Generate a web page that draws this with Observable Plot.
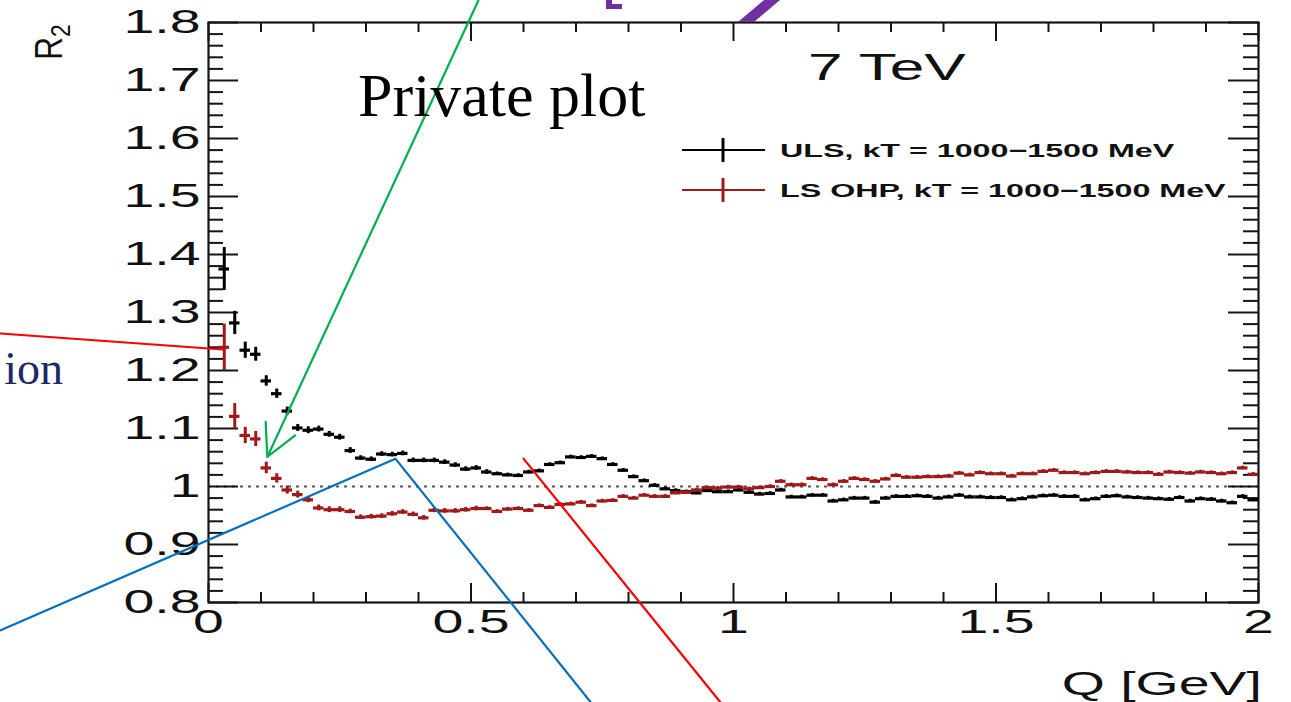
<!DOCTYPE html>
<html><head><meta charset="utf-8">
<script src="https://cdn.jsdelivr.net/npm/d3@7"></script>
<script src="https://cdn.jsdelivr.net/npm/@observablehq/plot@0.6"></script>
<style>
html,body{margin:0;padding:0;background:#fff;overflow:hidden}
#chart{position:relative;width:1291px;height:702px}
</style></head><body><div id="chart"></div>
<script>
// ---------- data ----------
const binCenters = [
0.03,0.05,0.07,0.09,0.11,0.13,0.15,0.17,0.19,0.21,
0.23,0.25,0.27,0.29,0.31,0.33,0.35,0.37,0.39,0.41,
0.43,0.45,0.47,0.49,0.51,0.53,0.55,0.57,0.59,0.61,
0.63,0.65,0.67,0.69,0.71,0.73,0.75,0.77,0.79,0.81,
0.83,0.85,0.87,0.89,0.91,0.93,0.95,0.97,0.99,1.01,
1.03,1.05,1.07,1.09,1.11,1.13,1.15,1.17,1.19,1.21,
1.23,1.25,1.27,1.29,1.31,1.33,1.35,1.37,1.39,1.41,
1.43,1.45,1.47,1.49,1.51,1.53,1.55,1.57,1.59,1.61,
1.63,1.65,1.67,1.69,1.71,1.73,1.75,1.77,1.79,1.81,
1.83,1.85,1.87,1.89,1.91,1.93,1.95,1.97,1.99];
const binHalfWidth = 0.01;

const ulsR2 = [
1.375,1.282,1.235,1.228,1.182,1.160,1.130,1.101,1.097,1.099,
1.090,1.085,1.062,1.049,1.047,1.056,1.055,1.057,1.045,1.045,
1.045,1.042,1.037,1.030,1.032,1.025,1.022,1.020,1.019,1.025,
1.027,1.038,1.041,1.051,1.050,1.052,1.048,1.038,1.028,1.017,
1.010,1.002,0.996,0.993,0.991,0.989,0.993,0.991,0.991,0.994,
0.990,0.987,0.988,0.994,0.982,0.982,0.985,0.985,0.975,0.977,
0.980,0.980,0.973,0.980,0.983,0.983,0.984,0.983,0.980,0.982,
0.985,0.982,0.982,0.981,0.981,0.977,0.979,0.982,0.984,0.985,
0.983,0.983,0.977,0.979,0.983,0.984,0.982,0.981,0.980,0.979,
0.978,0.981,0.975,0.979,0.978,0.975,0.972,0.983,0.977];
const ulsErr = [
0.037,0.020,0.014,0.012,0.009,0.008,0.007,0.006,0.006,0.005,
0.005,0.005,0.005,0.004,0.004,0.004,0.004,0.004,0.004,0.004,
0.004,0.004,0.004,0.004,0.004,0.004,0.003,0.003,0.003,0.003,
0.003,0.003,0.003,0.003,0.003,0.003,0.003,0.003,0.003,0.003,
0.003,0.003,0.003,0.003,0.003,0.003,0.003,0.003,0.003,0.003,
0.003,0.003,0.003,0.003,0.003,0.003,0.003,0.003,0.003,0.003,
0.003,0.003,0.003,0.003,0.003,0.003,0.003,0.003,0.003,0.003,
0.003,0.003,0.003,0.003,0.003,0.003,0.003,0.003,0.003,0.003,
0.003,0.003,0.003,0.003,0.003,0.003,0.003,0.003,0.003,0.003,
0.003,0.003,0.003,0.003,0.003,0.003,0.003,0.003,0.003];

const lsR2 = [
1.240,1.121,1.088,1.082,1.032,1.014,0.994,0.986,0.977,0.963,
0.960,0.960,0.957,0.947,0.948,0.949,0.953,0.956,0.952,0.946,
0.959,0.958,0.958,0.960,0.962,0.962,0.957,0.961,0.962,0.959,
0.967,0.964,0.969,0.970,0.973,0.967,0.975,0.976,0.983,0.980,
0.985,0.983,0.983,0.989,0.990,0.994,0.998,0.997,0.999,0.999,
0.996,0.998,1.000,1.009,1.003,1.003,1.014,1.012,1.003,1.009,
1.014,1.012,1.009,1.013,1.019,1.016,1.016,1.017,1.017,1.018,
1.023,1.020,1.024,1.022,1.022,1.018,1.022,1.022,1.026,1.028,
1.024,1.024,1.022,1.024,1.026,1.026,1.025,1.024,1.024,1.021,
1.025,1.024,1.023,1.025,1.024,1.022,1.024,1.032,1.021];
const lsErr = [
0.040,0.022,0.014,0.013,0.010,0.008,0.007,0.006,0.005,0.005,
0.005,0.005,0.004,0.004,0.004,0.004,0.004,0.004,0.004,0.004,
0.004,0.004,0.004,0.004,0.004,0.003,0.003,0.003,0.003,0.003,
0.003,0.003,0.003,0.003,0.003,0.003,0.003,0.003,0.003,0.003,
0.003,0.003,0.003,0.003,0.003,0.003,0.003,0.003,0.003,0.003,
0.003,0.003,0.003,0.003,0.003,0.003,0.003,0.003,0.003,0.003,
0.003,0.003,0.003,0.003,0.003,0.003,0.003,0.003,0.003,0.003,
0.003,0.003,0.003,0.003,0.003,0.003,0.003,0.003,0.003,0.003,
0.003,0.003,0.003,0.003,0.003,0.003,0.003,0.003,0.003,0.003,
0.003,0.003,0.003,0.003,0.003,0.003,0.003,0.003,0.003];

const seriesNames = ["ULS, kT = 1000\u22121500 MeV", "LS OHP, kT = 1000\u22121500 MeV"];
const seriesColors = ["#000000", "#a01818"];

const xMajorTicks = [0, 0.5, 1, 1.5, 2];
const xTickLabels = ["0", "0.5", "1", "1.5", "2"];
const yMajorTicks = [0.8, 0.9, 1, 1.1, 1.2, 1.3, 1.4, 1.5, 1.6, 1.7, 1.8];
const yTickLabels = ["0.8", "0.9", "1", "1.1", "1.2", "1.3", "1.4", "1.5", "1.6", "1.7", "1.8"];
const xMinorTicks = d3.range(1, 20).map(i => i / 10).filter(v => Math.abs(v * 2 - Math.round(v * 2)) > 1e-6);
const yMinorTicks = d3.range(41, 90).map(i => i / 50).filter(v => Math.abs(v * 10 - Math.round(v * 10)) > 1e-6);

const xLabel = "Q [GeV]";
const energyLabel = "7 TeV";

// annotation overlays (in data coordinates, extending beyond the frame)
const redLeaderA = [{q: -0.396, r: 1.264}, {q: 0.027, r: 1.236}];
const redLeaderB = [{q: 0.600, r: 1.048}, {q: 0.975, r: 0.628}];
const blueLeader = [{q: -0.396, r: 0.752}, {q: 0.356, r: 1.048}, {q: 0.728, r: 0.628}];
const greenArrow = [{q1: 0.514, r1: 1.838, q2: 0.112, r2: 1.051}];

// ---------- build ----------
const W = 1291, H = 702, mL = 208, mR = 33, mT = 22, mB = 100;
const pw = W - mL - mR, ph = H - mT - mB;
const uls = binCenters.map((q, i) => ({q, r: ulsR2[i], e: ulsErr[i]}));
const ls = binCenters.map((q, i) => ({q, r: lsR2[i], e: lsErr[i]}));
const axisCol = "#151515";
const FONT = "'Liberation Sans', Arial, Helvetica, sans-serif";

function errMarks(data, color) {
  return [
    Plot.ruleY(data, {y: "r", x1: d => d.q - binHalfWidth, x2: d => d.q + binHalfWidth, stroke: color, strokeWidth: 3.2}),
    Plot.ruleX(data, {x: "q", y1: d => d.r - d.e, y2: d => d.r + d.e, stroke: color, strokeWidth: 3})
  ];
}

const svg = Plot.plot({
  width: W, height: H,
  marginLeft: mL, marginRight: mR, marginTop: mT, marginBottom: mB,
  x: {domain: [0, 2], axis: null},
  y: {domain: [0.8, 1.8], axis: null},
  style: {background: "white", fontFamily: FONT, overflow: "visible"},
  marks: [
    Plot.ruleY([1], {stroke: "#555", strokeWidth: 1.8, strokeDasharray: "3,5"}),
    Plot.tickX(xMajorTicks, {x: d => d, insetTop: ph - 19, stroke: axisCol, strokeWidth: 2}),
    Plot.tickX(xMinorTicks, {x: d => d, insetTop: ph - 10, stroke: axisCol, strokeWidth: 2}),
    Plot.tickX(xMajorTicks, {x: d => d, insetBottom: ph - 19, stroke: axisCol, strokeWidth: 2}),
    Plot.tickX(xMinorTicks, {x: d => d, insetBottom: ph - 10, stroke: axisCol, strokeWidth: 2}),
    Plot.tickY(yMajorTicks, {y: d => d, insetRight: pw - 30, stroke: axisCol, strokeWidth: 2}),
    Plot.tickY(yMinorTicks, {y: d => d, insetRight: pw - 15, stroke: axisCol, strokeWidth: 2}),
    Plot.tickY(yMajorTicks, {y: d => d, insetLeft: pw - 30, stroke: axisCol, strokeWidth: 2}),
    Plot.tickY(yMinorTicks, {y: d => d, insetLeft: pw - 15, stroke: axisCol, strokeWidth: 2}),
    Plot.frame({stroke: axisCol, strokeWidth: 2.2}),
    Plot.axisX(xMajorTicks, {tickSize: 0, tickPadding: 7, fontSize: 33, fill: "#111",
      tickFormat: d => xTickLabels[xMajorTicks.indexOf(d)], label: null}),
    Plot.axisY(yMajorTicks, {tickSize: 0, tickPadding: 8, fontSize: 33, fill: "#111",
      tickFormat: d => yTickLabels[yMajorTicks.indexOf(d)], label: null}),
    ...errMarks(uls, seriesColors[0]),
    ...errMarks(ls, seriesColors[1]),
    Plot.line(redLeaderA, {x: "q", y: "r", stroke: "#ff0000", strokeWidth: 2}),
    Plot.line(redLeaderB, {x: "q", y: "r", stroke: "#ff0000", strokeWidth: 2.2}),
    Plot.line(blueLeader, {x: "q", y: "r", stroke: "#0070c0", strokeWidth: 2.2}),
    Plot.arrow(greenArrow, {x1: "q1", y1: "r1", x2: "q2", y2: "r2", stroke: "#00b050", strokeWidth: 2.2, headLength: 24, headAngle: 55})
  ]
});
document.getElementById("chart").appendChild(svg);

const S = d3.select(svg);
const STRETCH = 1.68;
function stretch(el, s) {
  const w = el.getComputedTextLength();
  el.setAttribute("textLength", (w * s).toFixed(1));
  el.setAttribute("lengthAdjust", "spacingAndGlyphs");
}
S.selectAll('g[aria-label="x-axis tick label"] text, g[aria-label="y-axis tick label"] text').each(function () { stretch(this, STRETCH); });

// axis titles
const qt = S.append("text").attr("x", 1262).attr("y", 695).attr("text-anchor", "end")
  .attr("font-family", FONT).attr("font-size", 33).attr("fill", "#111").text(xLabel);
stretch(qt.node(), STRETCH);

const rt = S.append("text").attr("transform", "translate(62,60) rotate(-90) scale(1,1.2)")
  .attr("text-anchor", "start").attr("font-family", FONT).attr("font-size", 32).attr("fill", "#111");
rt.append("tspan").text("R");
rt.append("tspan").attr("font-size", 23).attr("dy", 7).text("2");

// energy label
const et = S.append("text").attr("x", 808).attr("y", 80).attr("text-anchor", "start").attr("font-family", FONT)
  .attr("font-size", 37).attr("fill", "#111").text(energyLabel);
stretch(et.node(), STRETCH);

// legend
const leg = S.append("g");
seriesNames.forEach((name, i) => {
  const y = 150 + 40 * i;
  leg.append("line").attr("x1", 682).attr("x2", 765).attr("y1", y).attr("y2", y)
    .attr("stroke", seriesColors[i]).attr("stroke-width", 2.2);
  leg.append("line").attr("x1", 723).attr("x2", 723).attr("y1", y - 12).attr("y2", y + 12)
    .attr("stroke", seriesColors[i]).attr("stroke-width", 3);
  const t = leg.append("text").attr("x", 780).attr("y", y + 7).attr("text-anchor", "start").attr("font-family", FONT)
    .attr("font-weight", "bold").attr("font-size", 19.2).attr("fill", "#111").text(name);
  stretch(t.node(), STRETCH);
});

// slide overlays
S.append("text").attr("x", 358).attr("y", 116).attr("text-anchor", "start")
  .attr("font-family", "'Liberation Serif', 'Times New Roman', serif")
  .attr("font-size", 62).attr("fill", "#000").text("Private plot");
S.append("text").attr("x", 63).attr("y", 384).attr("text-anchor", "end")
  .attr("font-family", "'Liberation Serif', 'Times New Roman', serif")
  .attr("font-size", 46).attr("fill", "#1b2a66").text("ion");
S.append("path").attr("d", "M606,0 L612,0 L612,4 L622,4 L622,9 L606,9 Z").attr("fill", "#7030a0");
S.append("path").attr("d", "M764,0 L780,0 L754,22 L738,22 Z").attr("fill", "#7030a0");
</script>
</body></html>
